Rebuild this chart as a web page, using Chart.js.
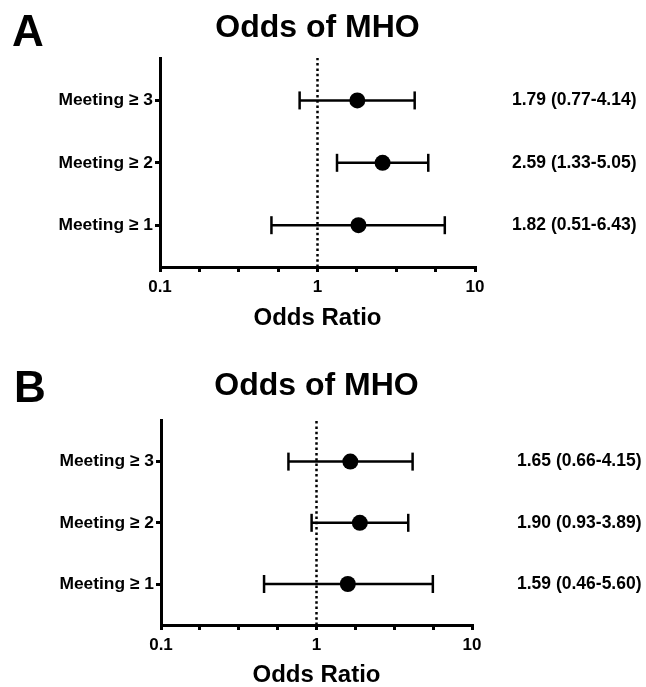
<!DOCTYPE html>
<html><head><meta charset="utf-8">
<script src="https://cdn.jsdelivr.net/npm/chart.js@4/dist/chart.umd.min.js"></script>
<style>
html,body{margin:0;padding:0;background:#fff;overflow:hidden;width:646px;height:687px;}
canvas{position:absolute;left:0;display:block;}
</style></head><body>
<canvas id="cA" width="646" height="340" style="top:0px;width:646px;height:340px"></canvas>
<canvas id="cB" width="646" height="347" style="top:340px;width:646px;height:347px"></canvas>
<script>
// ---- data ----
const categories = ['Meeting ≥ 3', 'Meeting ≥ 2', 'Meeting ≥ 1'];
const rowPositions = [3, 2, 1];
const panelLetters = ['A', 'B'];
const chartTitle = 'Odds of MHO';
const xAxisTitle = 'Odds Ratio';
const xTickLabels = ['0.1', '1', '10'];
const referenceOR = 1;
const oddsA  = [1.79, 2.59, 1.82];
const lowerA = [0.77, 1.33, 0.51];
const upperA = [4.14, 5.05, 6.43];
const oddsB  = [1.65, 1.90, 1.59];
const lowerB = [0.66, 0.93, 0.46];
const upperB = [4.15, 3.89, 5.60];

// ---- styling / layout ----
const FONT = '"Liberation Sans", Arial, Helvetica, sans-serif';
const yRange = [0.33, 3.68];
const xMin = 0.1, xMax = 10;
const xTickPositions = [];
for (let k = -4; k <= 4; k++) xTickPositions.push(Math.pow(10, k / 4));

function fmt(v) { return v.toFixed(2); }

function makePanel(canvasId, letter, odds, lower, upper, L) {
  const datasets = [];
  // reference dotted line at OR = 1
  datasets.push({
    data: [{x: referenceOR, y: yRange[0]}, {x: referenceOR, y: yRange[1]}],
    showLine: true, borderColor: '#000', borderWidth: 2.5,
    borderDash: [2.5, 2.8], borderCapStyle: 'butt',
    pointRadius: 0, order: 3
  });
  // confidence intervals with caps
  for (let i = 0; i < odds.length; i++) {
    datasets.push({
      data: [{x: lower[i], y: rowPositions[i]}, {x: upper[i], y: rowPositions[i]}],
      showLine: true, borderColor: '#000', borderWidth: 2.5,
      pointStyle: 'line', rotation: 90, pointRadius: 9, pointHoverRadius: 9,
      pointBorderColor: '#000', pointBorderWidth: 2.5, order: 2
    });
  }
  // point estimates
  datasets.push({
    data: odds.map((v, i) => ({x: v, y: rowPositions[i]})),
    pointRadius: 8, pointHoverRadius: 8, pointBackgroundColor: '#000',
    pointBorderColor: '#000', pointBorderWidth: 0, order: 1
  });

  const textPlugin = {
    id: 'panelText',
    afterDraw(chart) {
      const ctx = chart.ctx, ca = chart.chartArea, ys = chart.scales.y;
      ctx.save();
      ctx.fillStyle = '#000';
      // panel letter
      ctx.font = 'bold 44px ' + FONT;
      ctx.textAlign = 'left';
      ctx.textBaseline = 'alphabetic';
      ctx.fillText(letter, L.letterX, L.letterBase);
      // title
      ctx.font = 'bold 32px ' + FONT;
      ctx.textAlign = 'center';
      ctx.fillText(chartTitle, (ca.left + ca.right) / 2, L.titleBase);
      // OR (95% CI) annotations
      ctx.font = 'bold 17.5px ' + FONT;
      ctx.textAlign = 'left';
      ctx.textBaseline = 'middle';
      for (let i = 0; i < odds.length; i++) {
        const txt = fmt(odds[i]) + ' (' + fmt(lower[i]) + '-' + fmt(upper[i]) + ')';
        ctx.fillText(txt, L.annotX, ys.getPixelForValue(rowPositions[i]));
      }
      ctx.restore();
    }
  };

  return new Chart(document.getElementById(canvasId), {
    type: 'scatter',
    data: {datasets},
    options: {
      responsive: false, animation: false, events: [],
      layout: {padding: {top: L.top, right: L.right, left: 0, bottom: 0}},
      plugins: {legend: {display: false}, tooltip: {enabled: false}, title: {display: false}},
      scales: {
        x: {
          type: 'logarithmic', min: xMin, max: xMax,
          afterBuildTicks: s => { s.ticks = xTickPositions.map(v => ({value: v})); },
          afterFit: s => { s.height = L.xHeight; },
          ticks: {
            autoSkip: false, maxRotation: 0, padding: 5, color: '#000',
            font: {family: FONT, size: 17, weight: 'bold'},
            callback: (v, idx) => (idx % 4 === 0 ? xTickLabels[idx / 4] : '')
          },
          grid: {drawOnChartArea: false, drawTicks: true, tickLength: 5, lineWidth: 3, color: '#000'},
          border: {display: true, width: 3, color: '#000'},
          title: {display: true, text: xAxisTitle, color: '#000',
                  font: {family: FONT, size: 24, weight: 'bold', lineHeight: 1},
                  padding: {top: 0, bottom: L.xTitlePad}}
        },
        y: {
          type: 'linear', min: yRange[0], max: yRange[1],
          afterBuildTicks: s => { s.ticks = rowPositions.map(v => ({value: v})); },
          afterFit: s => { s.width = L.yWidth; },
          ticks: {
            padding: 2, color: '#000',
            font: {family: FONT, size: 17.4, weight: 'bold'},
            callback: v => { const i = rowPositions.indexOf(v); return i >= 0 ? categories[i] : ''; }
          },
          grid: {drawOnChartArea: false, drawTicks: true, tickLength: 5, lineWidth: 3, color: '#000'},
          border: {display: true, width: 3, color: '#000'}
        }
      }
    },
    plugins: [textPlugin]
  });
}

makePanel('cA', panelLetters[0], oddsA, lowerA, upperA, {
  top: 58, right: 171, yWidth: 160, xHeight: 73, xTitlePad: 10,
  letterX: 12, letterBase: 46, titleBase: 36.5, annotX: 512
});
makePanel('cB', panelLetters[1], oddsB, lowerB, upperB, {
  top: 80, right: 174, yWidth: 161, xHeight: 62, xTitlePad: 0,
  letterX: 14, letterBase: 62, titleBase: 55, annotX: 517
});
</script>
</body></html>
